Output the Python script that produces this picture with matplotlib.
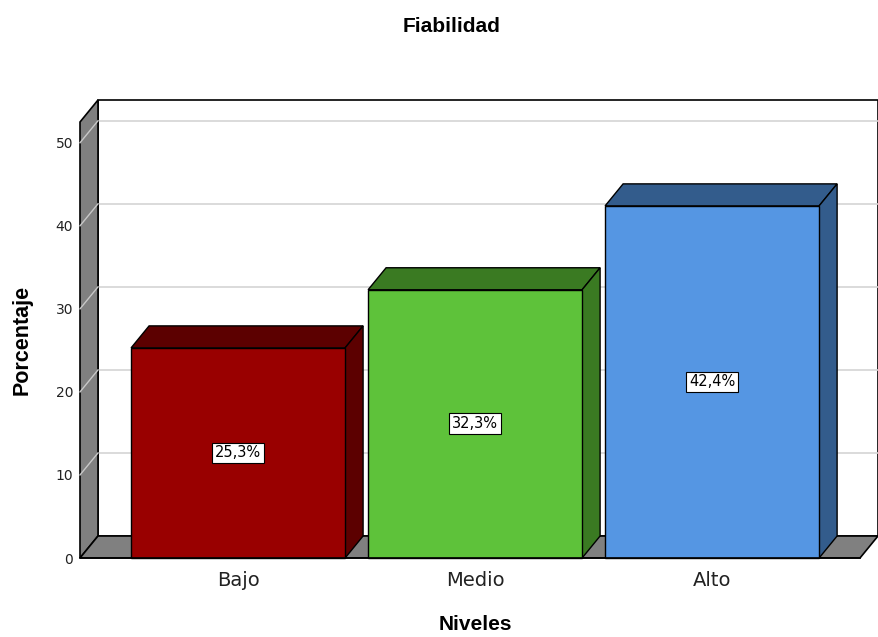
import matplotlib
matplotlib.use("Agg")
import matplotlib.pyplot as plt
from matplotlib.patches import Polygon

categories = ["Bajo", "Medio", "Alto"]
values = [25.3, 32.3, 42.4]
value_labels = ["25,3%", "32,3%", "42,4%"]
yticks = [0, 10, 20, 30, 40, 50]
front_colors = ["#990000", "#5ec23a", "#5596e3"]
side_colors = ["#5c0000", "#3a7a22", "#335c8c"]

plt.rcParams['font.family'] = ['Liberation Sans', 'DejaVu Sans']

W, H = 879, 637
fig = plt.figure(figsize=(W / 100, H / 100), dpi=100)
px_left, px_right, px_bottom, px_top = 80, 860, 558, 122
ax = fig.add_axes([px_left / W, (H - px_bottom) / H,
                   (px_right - px_left) / W, (px_bottom - px_top) / H])
x0, x1 = -0.667, 2.624
ymax = 52.5
ax.set_xlim(x0, x1)
ax.set_ylim(0, ymax)
dx = 18 * (x1 - x0) / (px_right - px_left)
dy = 22 * ymax / (px_bottom - px_top)

for s in ax.spines.values():
    s.set_visible(False)
ax.patch.set_visible(False)

def poly(pts, fc, ec="black", lw=1.0, z=1):
    p = Polygon(pts, closed=True, facecolor=fc, edgecolor=ec, linewidth=lw,
                zorder=z, clip_on=False)
    ax.add_patch(p)

# back wall
poly([(x0 + dx, dy), (x1 + dx, dy), (x1 + dx, ymax + dy), (x0 + dx, ymax + dy)],
     "white", ec="black", lw=1.2, z=0)
# gridlines on back wall and left wall
for t in yticks[1:]:
    ax.plot([x0 + dx, x1 + dx], [t + dy, t + dy], color="#d4d4d4", lw=1.2,
            zorder=0.5, clip_on=False)
# left wall
poly([(x0, 0), (x0, ymax), (x0 + dx, ymax + dy), (x0 + dx, dy)], "#808080",
     ec="black", lw=1.2, z=1)
for t in yticks[1:]:
    ax.plot([x0, x0 + dx], [t, t + dy], color="#c8c8c8", lw=1.0,
            zorder=1.5, clip_on=False)
# floor
poly([(x0, 0), (x1, 0), (x1 + dx, dy), (x0 + dx, dy)], "#808080",
     ec="black", lw=1.2, z=1)

# bars
hw = 214 / 237 / 2
for i, (v, fc, sc) in enumerate(zip(values, front_colors, side_colors)):
    xl, xr = i - hw, i + hw
    poly([(xl, v), (xr, v), (xr + dx, v + dy), (xl + dx, v + dy)], sc, z=2)
    poly([(xr, 0), (xr + dx, dy), (xr + dx, v + dy), (xr, v)], sc, z=2)
    poly([(xl, 0), (xr, 0), (xr, v), (xl, v)], fc, z=3)
    ax.text(i, v / 2, value_labels[i], ha="center", va="center", fontsize=10.5,
            family=["DejaVu Sans"], zorder=5,
            bbox=dict(boxstyle="square,pad=0.2", fc="white", ec="black", lw=0.8))

# front bottom line
ax.plot([x0, x1], [0, 0], color="black", lw=1.2, zorder=4, clip_on=False)

ax.set_yticks(yticks)
ax.set_yticklabels([str(t) for t in yticks], fontsize=10, color="#222222",
                   family=["DejaVu Sans"])
ax.set_xticks(range(len(categories)))
ax.set_xticklabels(categories, fontsize=14, color="#222222", family=["DejaVu Sans"])
ax.tick_params(axis="y", length=0, pad=5)
ax.tick_params(axis="x", length=0, pad=9)

fig.text(452 / W, 1 - 27 / H, "Fiabilidad", ha="center", va="center",
         fontsize=15, fontweight="bold")
fig.text(475 / W, 1 - 625 / H, "Niveles", ha="center", va="center",
         fontsize=15, fontweight="bold")
fig.text(22 / W, 1 - 340 / H, "Porcentaje", ha="center", va="center",
         fontsize=15.5, fontweight="bold", rotation=90)

fig.savefig("out.png", dpi=100)
